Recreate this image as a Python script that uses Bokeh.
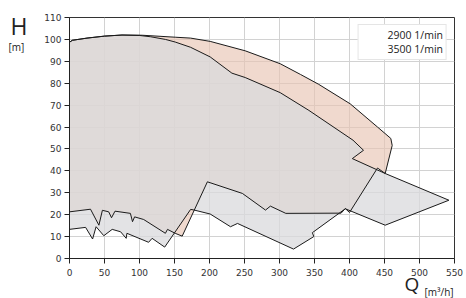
from bokeh.plotting import figure
from bokeh.models import Range1d, Label, Legend, LegendItem, ColumnDataSource, FixedTicker
from bokeh.embed import file_html
from bokeh.resources import INLINE

# ---- data (Q in m3/h, H in m) ----
q_2900 = [0, 4, 25, 50, 75, 100, 116, 137, 151, 173, 201, 232, 251, 301, 342, 405, 420, 404,
          451, 542, 451, 394, 347, 349, 320, 240, 230, 201, 177, 173, 136, 118, 113, 82, 81,
          73, 61, 49, 38, 33, 23, 0]
h_2900 = [98.7, 99.6, 100.6, 101.5, 102, 101.8, 101.2, 100, 98.8, 96.4, 92, 84.6, 82.6, 75.7,
          67.6, 54, 49.4, 45.6, 38.8, 26.6, 15.2, 22.7, 11.8, 10, 4.3, 16, 14.5, 20.3, 22.2,
          22.4, 5.2, 9.2, 7.4, 11.5, 9.2, 12.2, 13.3, 10.4, 14.5, 8.9, 14.2, 13.3]

q_3500 = [0, 4, 25, 50, 75, 104, 151, 173, 201, 251, 301, 330, 356, 401, 440, 459, 461, 451,
          440, 400, 394, 388, 309, 287, 280, 247, 197, 161, 151, 140, 137, 106, 93, 90, 87,
          65, 60, 56, 47, 42, 30, 0]
h_3500 = [98.7, 99.6, 100.6, 101.5, 102, 101.9, 101, 100.6, 99.1, 94.8, 88.9, 84, 79.5, 70.6,
          60, 54.8, 51.6, 38.8, 41.3, 21, 22.8, 20.7, 20.6, 23.9, 22.1, 29.7, 35, 10.2, 11.5,
          13.3, 11.5, 17.8, 19, 16.8, 20.6, 21.6, 18.6, 21.3, 22, 15.2, 22.5, 21.3]

series_labels = ["2900 1/min", "3500 1/min"]
x_ticks = [0, 50, 100, 150, 200, 250, 300, 350, 400, 450, 500, 550]
y_ticks = [0, 10, 20, 30, 40, 50, 60, 70, 80, 90, 100, 110]

# ---- figure ----
p = figure(width=466, height=298, output_backend="svg", toolbar_location=None,
           x_range=Range1d(0, 550), y_range=Range1d(0, 110),
           min_border_left=69, min_border_right=12, min_border_top=17, min_border_bottom=40,
           background_fill_color="white", border_fill_color="white")

p.outline_line_color = "#333333"
p.outline_line_width = 1

p.xaxis.ticker = FixedTicker(ticks=x_ticks)
p.yaxis.ticker = FixedTicker(ticks=y_ticks)
p.xgrid.grid_line_color = "#d2d2d2"
p.ygrid.grid_line_color = "#d2d2d2"

for ax in (p.xaxis, p.yaxis):
    ax.axis_line_color = "#222222"
    ax.major_tick_line_color = "#222222"
    ax.major_tick_out = 5
    ax.major_tick_in = 0
    ax.minor_tick_line_color = None
    ax.major_label_text_font = "DejaVu Sans"
    ax.major_label_text_font_size = "9px"
    ax.major_label_text_color = "#333333"
p.yaxis.major_label_standoff = 3
p.xaxis.major_label_standoff = 5

src35 = ColumnDataSource(dict(x=q_3500, y=h_3500))
src29 = ColumnDataSource(dict(x=q_2900, y=h_2900))

p.patch('x', 'y', source=src35, fill_color="#e8c4b4", fill_alpha=0.65, line_color=None)
p.patch('x', 'y', source=src29, fill_color="#d9dadc", fill_alpha=0.75, line_color=None)
p.patch('x', 'y', source=src35, fill_color=None, line_color="#1a1a1a", line_width=1)
p.patch('x', 'y', source=src29, fill_color=None, line_color="#1a1a1a", line_width=1)

# legend swatches (full colour)
r_l29 = p.patch(x=[], y=[], fill_color="#d8d8d8", line_color=None)
r_l35 = p.patch(x=[], y=[], fill_color="#e8c4b4", line_color=None)

legend = Legend(items=[LegendItem(label=series_labels[0], renderers=[r_l29]),
                       LegendItem(label=series_labels[1], renderers=[r_l35])],
                location="top_right", margin=7, padding=3, spacing=0,
                glyph_width=23, glyph_height=9, label_height=14, label_standoff=3,
                label_text_font="Open Sans", label_text_font_size="10.5px",
                label_text_color="#222222",
                border_line_color="#cccccc", border_line_width=1,
                background_fill_color="white", background_fill_alpha=1)
p.add_layout(legend)

# axis titles placed in side panels (not clipped), positioned in data units
lab_H = Label(x=-84.3, y=105.9, text="H", text_font="Open Sans", text_font_size="23px",
              text_color="#222222", text_align="left", text_baseline="alphabetic")
lab_m = Label(x=-87.1, y=96.5, text="[m]", text_font="Open Sans", text_font_size="10px",
              text_color="#222222", text_align="left", text_baseline="alphabetic")
lab_Q = Label(x=478.6, y=-11.6, text="Q", text_font="Open Sans", text_font_size="19px",
              text_color="#222222", text_align="left", text_baseline="alphabetic")
lab_u = Label(x=507.1, y=-15.5, text="[m³/h]", text_font="Open Sans", text_font_size="10px",
              text_color="#222222", text_align="left", text_baseline="alphabetic")
p.add_layout(lab_H, "left")
p.add_layout(lab_Q, "left")
p.add_layout(lab_m, "above")
p.add_layout(lab_u, "below")

open("out.html", "w").write(file_html(p, INLINE))
